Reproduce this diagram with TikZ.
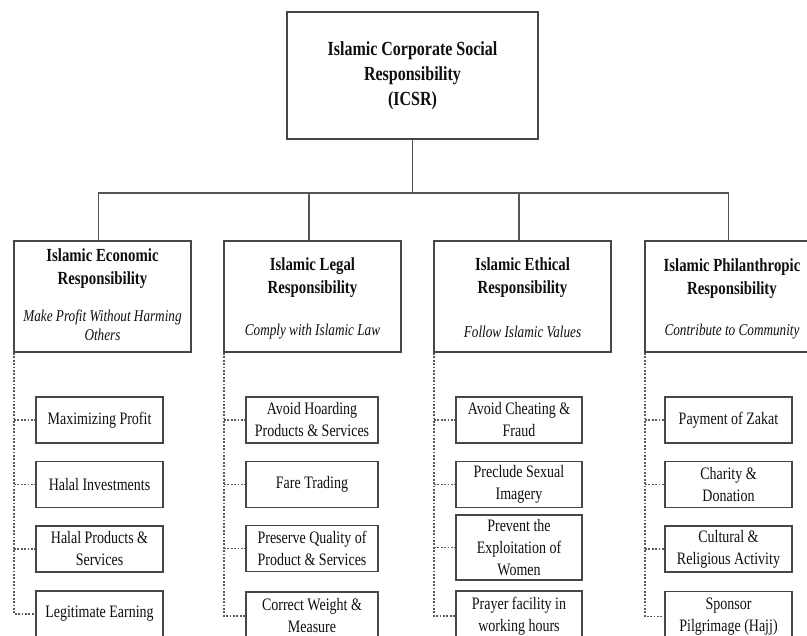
\documentclass[tikz,border=0pt]{standalone}
\usepackage{fontspec}
\setmainfont[FakeStretch=0.8]{Liberation Serif}
\definecolor{boxgray}{RGB}{70,70,70}
\definecolor{linegray}{RGB}{85,85,85}
\definecolor{dotgray}{RGB}{90,90,90}
\definecolor{txt}{RGB}{15,15,15}
\newcommand\topfnt{\fontsize{20}{25}\selectfont\bfseries}
\newcommand\hdrfnt{\fontsize{18.5}{23}\selectfont\bfseries}
\newcommand\subfnt{\fontsize{16.5}{19}\selectfont\itshape}
\newcommand\chfnt{\fontsize{17.5}{22}\selectfont}
\begin{document}
\begin{tikzpicture}[x=1pt,y=-1pt,
  box/.style={draw=boxgray, line width=1.9pt, fill=white, inner sep=0pt, text=txt},
  hdrbox/.style={box, minimum width=177pt, minimum height=111pt},
  chbox/.style={box, minimum width=127pt, minimum height=46pt, align=center, font=\chfnt},
  hdrtitle/.style={inner sep=0pt, align=center, font=\hdrfnt, text=txt},
  hdrsub/.style={inner sep=0pt, align=center, font=\subfnt, text=txt},
  conn/.style={draw=linegray, line width=1.6pt},
  dots/.style={draw=dotgray, line width=1.5pt, dash pattern=on 1.8pt off 1.6pt}]
\useasboundingbox (0,0) rectangle (807,636);
\clip (0,0) rectangle (807,636);
\fill[white] (0,0) rectangle (807,636);

% top
\node[box, minimum width=251pt, minimum height=127pt, align=center, font=\topfnt] (top) at (412.5,75.5)
  {Islamic Corporate Social\\Responsibility\\(ICSR)};

% header boxes
\node[hdrbox] (h1) at (102.5,296.5) {};
\node[hdrbox] (h2) at (312.5,296.5) {};
\node[hdrbox] (h3) at (522.5,296.5) {};
\node[hdrbox] (h4) at (733.5,296.5) {};

\node[hdrtitle] (h1t) at (102.5,269) {Islamic Economic\\Responsibility};
\node[hdrsub] (h1s) at (102.5,325.5) {Make Profit Without Harming\\Others};
\node[hdrtitle] (h2t) at (312.5,277.5) {Islamic Legal\\Responsibility};
\node[hdrsub] (h2s) at (312.5,332) {Comply with Islamic Law};
\node[hdrtitle] (h3t) at (522.5,278) {Islamic Ethical\\Responsibility};
\node[hdrsub] (h3s) at (522.5,332) {Follow Islamic Values};
\node[hdrtitle] (h4t) at (732,279) {Islamic Philanthropic\\Responsibility};
\node[hdrsub] (h4s) at (732,332) {Contribute to Community};

% solid connectors
\coordinate (bar) at (412.5,193);
\draw[conn] (top.south) -- (bar);
\draw[conn] ([xshift=-4pt]h1.north) |- (bar) -| ([xshift=-5pt]h4.north);
\draw[conn] ([xshift=-3.5pt]h2.north) -- ([xshift=-3.5pt]h2.north |- bar);
\draw[conn] ([xshift=-3.5pt]h3.north) -- ([xshift=-3.5pt]h3.north |- bar);

% column 1
\node[chbox] (c11) at (99.5,420) {Maximizing Profit};
\node[chbox] (c12) at (99.5,484.5) {Halal Investments};
\node[chbox] (c13) at (99.5,549) {Halal Products \&\\Services};
\node[chbox] (c14) at (99.5,614) {Legitimate Earning};
% column 2
\node[chbox, minimum width=132pt] (c21) at (312,420) {Avoid Hoarding\\Products \& Services};
\node[chbox, minimum width=132pt] (c22) at (312,484.5) {Fare Trading};
\node[chbox, minimum width=132pt] (c23) at (312,548.5) {Preserve Quality of\\Product \& Services};
\node[chbox, minimum width=132pt, minimum height=48pt] (c24) at (312,616) {Correct Weight \&\\Measure};
% column 3
\node[chbox, minimum width=126pt] (c31) at (519,420) {Avoid Cheating \&\\Fraud};
\node[chbox, minimum width=126pt] (c32) at (519,484.5) {Preclude Sexual\\Imagery};
\node[chbox, minimum width=126pt, minimum height=65pt] (c33) at (519,547.5) {Prevent the\\Exploitation of\\Women};
\node[chbox, minimum width=126pt, minimum height=50pt] (c34) at (519,616) {Prayer facility in\\working hours};
% column 4
\node[chbox] (c41) at (728.5,420) {Payment of Zakat};
\node[chbox] (c42) at (728.5,484.5) {Charity \&\\Donation};
\node[chbox] (c43) at (728.5,549) {Cultural \&\\Religious Activity};
\node[chbox, minimum height=50pt] (c44) at (728.5,616.5) {Sponsor\\Pilgrimage (Hajj)};

% dotted connectors
\foreach \h/\c in {h1/c1,h2/c2,h3/c3,h4/c4}{
  \draw[dots] ([xshift=1pt]\h.south west) |- (\c4.west);
  \foreach \k in {1,2,3}{
    \draw[dots] ([xshift=1pt]\h.south west |- \c\k.west) -- (\c\k.west);
  }
}
\end{tikzpicture}
\end{document}
